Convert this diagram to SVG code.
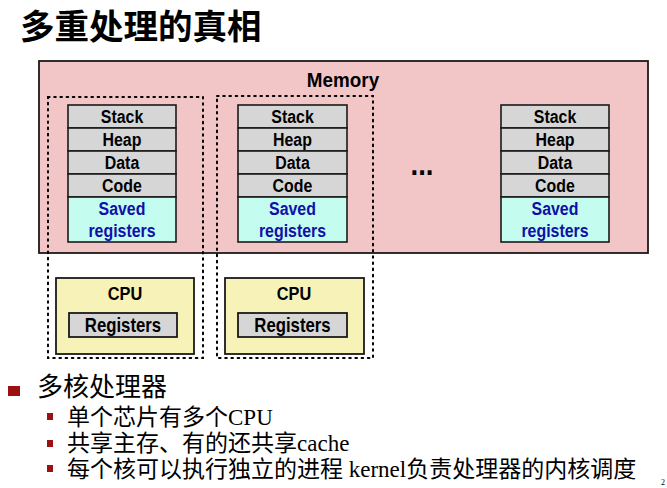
<svg xmlns="http://www.w3.org/2000/svg" width="667" height="488" viewBox="0 0 667 488">
<style>
.lbl{font-family:"Liberation Sans",Arial,sans-serif;font-weight:bold;text-anchor:middle;fill:#000;transform-box:fill-box;transform-origin:center;transform:scaleX(0.86)}
.seg{fill:#d6d6d6;stroke:#1a1a1a;stroke-width:1.6}
.sav{fill:#c4fdf0;stroke:#1a1a1a;stroke-width:1.6}
.blue{fill:#1010a8}
.dot{fill:none;stroke:#000;stroke-width:2;stroke-dasharray:1.6 4.6;stroke-linecap:round}
.cpu{fill:#f6f2b8;stroke:#1a1a1a;stroke-width:1.8}
.reg{fill:#d6d6d6;stroke:#1a1a1a;stroke-width:1.8}
.cjk{font-family:"Liberation Serif","Noto Sans CJK SC",serif;fill:#000}
.bul{fill:#9b1010}
</style>
<rect width="667" height="488" fill="#fff"/>
<g id="title"><text x="20" y="39" font-family="'Noto Sans CJK SC',sans-serif" font-weight="bold" font-size="34.5" fill="#000">多重处理的真相</text></g>
<g id="memory">
<rect x="39" y="61" width="609" height="192" fill="#f2c6c6" stroke="#1a1a1a" stroke-width="1.8"/>
<text class="lbl" x="343" y="87" font-size="20.5" style="transform:scaleX(0.92)">Memory</text>
</g>
<g id="core1">
<rect class="dot" x="48" y="97" width="155" height="261"/>
</g>
<g id="core2">
<rect class="dot" x="217" y="96" width="156" height="262"/>
</g>
<g id="proc1">
<rect class="seg" x="68" y="105" width="108" height="23"/><text class="lbl" x="122" y="123.5" font-size="18.5">Stack</text>
<rect class="seg" x="68" y="128" width="108" height="23"/><text class="lbl" x="122" y="146.5" font-size="18.5">Heap</text>
<rect class="seg" x="68" y="151" width="108" height="23"/><text class="lbl" x="122" y="169.5" font-size="18.5">Data</text>
<rect class="seg" x="68" y="174" width="108" height="23"/><text class="lbl" x="122" y="192.5" font-size="18.5">Code</text>
<rect class="sav" x="68" y="197" width="108" height="45"/><text class="lbl blue" x="122" y="215" font-size="18.5">Saved</text><text class="lbl blue" x="122" y="237.5" font-size="18.5">registers</text>
</g>
<g id="proc2">
<rect class="seg" x="238" y="105" width="109" height="23"/><text class="lbl" x="292.5" y="123.5" font-size="18.5">Stack</text>
<rect class="seg" x="238" y="128" width="109" height="23"/><text class="lbl" x="292.5" y="146.5" font-size="18.5">Heap</text>
<rect class="seg" x="238" y="151" width="109" height="23"/><text class="lbl" x="292.5" y="169.5" font-size="18.5">Data</text>
<rect class="seg" x="238" y="174" width="109" height="23"/><text class="lbl" x="292.5" y="192.5" font-size="18.5">Code</text>
<rect class="sav" x="238" y="197" width="109" height="45"/><text class="lbl blue" x="292.5" y="215" font-size="18.5">Saved</text><text class="lbl blue" x="292.5" y="237.5" font-size="18.5">registers</text>
</g>
<g id="ellipsis"><text class="lbl" x="422" y="175" font-size="32">...</text></g>
<g id="proc3">
<rect class="seg" x="501" y="105" width="108" height="23"/><text class="lbl" x="555" y="123.5" font-size="18.5">Stack</text>
<rect class="seg" x="501" y="128" width="108" height="23"/><text class="lbl" x="555" y="146.5" font-size="18.5">Heap</text>
<rect class="seg" x="501" y="151" width="108" height="23"/><text class="lbl" x="555" y="169.5" font-size="18.5">Data</text>
<rect class="seg" x="501" y="174" width="108" height="23"/><text class="lbl" x="555" y="192.5" font-size="18.5">Code</text>
<rect class="sav" x="501" y="197" width="108" height="45"/><text class="lbl blue" x="555" y="215" font-size="18.5">Saved</text><text class="lbl blue" x="555" y="237.5" font-size="18.5">registers</text>
</g>
<g id="cpu1">
<rect class="cpu" x="56" y="278" width="138" height="76"/>
<text class="lbl" x="125" y="300.5" font-size="19">CPU</text>
<rect class="reg" x="69" y="313" width="108" height="24"/>
<text class="lbl" x="123" y="332" font-size="19.5">Registers</text>
</g>
<g id="cpu2">
<rect class="cpu" x="225" y="278" width="139" height="76"/>
<text class="lbl" x="294" y="300.5" font-size="19">CPU</text>
<rect class="reg" x="238" y="313" width="109" height="24"/>
<text class="lbl" x="292.5" y="332" font-size="19.5">Registers</text>
</g>
<g id="bullets">
<rect class="bul" x="8" y="386" width="12" height="10"/>
<text class="cjk" x="37" y="396" font-size="26">多核处理器</text>
<rect class="bul" x="47" y="413" width="6" height="7"/>
<text class="cjk" x="67" y="425" font-size="23">单个芯片有多个CPU</text>
<rect class="bul" x="47" y="440" width="6" height="7"/>
<text class="cjk" x="67" y="451" font-size="23">共享主存、有的还共享cache</text>
<rect class="bul" x="47" y="465" width="6" height="7"/>
<text class="cjk" x="67" y="477" font-size="23">每个核可以执行独立的进程 kernel负责处理器的内核调度</text>
<text class="cjk" x="661" y="485" font-size="8">2</text>
</g>
</svg>
